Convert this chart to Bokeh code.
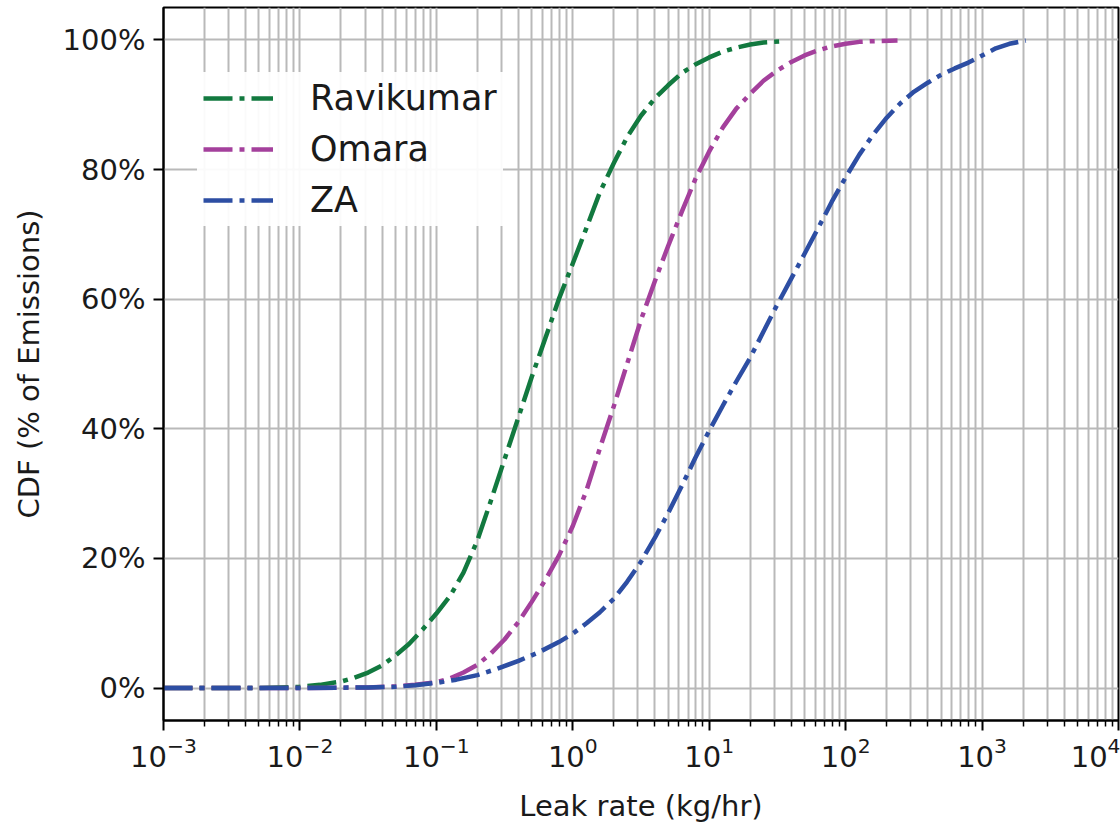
from bokeh.plotting import figure
from bokeh.models import FixedTicker, PrintfTickFormatter, Legend, LegendItem
from bokeh.embed import file_html
from bokeh.resources import INLINE

# ---- data ----
ravikumar_x = [0.001, 0.00316, 0.005, 0.007, 0.01, 0.014, 0.02, 0.025, 0.0316, 0.04, 0.05,
               0.063, 0.079, 0.1, 0.126, 0.158, 0.2, 0.25, 0.316, 0.4, 0.5, 0.63, 0.79,
               1.0, 1.26, 1.58, 2.0, 2.5, 3.16, 4.0, 5.0, 6.3, 7.9, 10, 12.6, 15.8, 20,
               25, 35]
ravikumar_cdf = [0.0, 0.01, 0.02, 0.08, 0.2, 0.5, 1.0, 1.6, 2.4, 3.5, 5.0,
                 6.8, 9.0, 11.5, 14.2, 17.8, 22.8, 28.8, 35.3, 41.8, 48.0, 54.0, 60.0,
                 65.5, 71.0, 76.5, 81.0, 85.0, 88.3, 91.0, 93.0, 94.9, 96.2, 97.3, 98.2,
                 98.8, 99.3, 99.6, 99.8]

omara_x = [0.001, 0.01, 0.0316, 0.05, 0.07, 0.1, 0.126, 0.158, 0.2, 0.25, 0.316, 0.4,
           0.5, 0.63, 0.79, 1.0, 1.26, 1.58, 2.0, 2.5, 3.16, 4.0, 5.0, 6.3, 7.9, 10,
           12.6, 15.8, 20, 25, 31.6, 40, 50, 63, 79, 100, 126, 158, 240]
omara_cdf = [0.0, 0.02, 0.1, 0.25, 0.5, 0.9, 1.5, 2.4, 3.6, 5.3, 7.5, 10.2,
             13.3, 16.7, 20.4, 25.0, 30.5, 37.0, 43.5, 50.0, 56.8, 62.8, 68.2, 73.5,
             78.5, 82.8, 86.5, 89.4, 91.7, 93.7, 95.3, 96.6, 97.6, 98.4, 99.0, 99.4,
             99.7, 99.8, 99.9]

za_x = [0.001, 0.01, 0.0316, 0.05, 0.07, 0.1, 0.14, 0.2, 0.28, 0.4, 0.56, 0.79, 1.0,
        1.26, 1.58, 2.0, 2.5, 3.16, 4.0, 5.0, 6.3, 7.9, 10, 12.6, 15.8, 20, 25, 31.6,
        40, 50, 63, 79, 100, 126, 158, 200, 251, 316, 400, 500, 630, 794, 1000, 1260,
        1585, 2090]
za_cdf = [0.0, 0.02, 0.1, 0.2, 0.45, 0.8, 1.3, 2.0, 3.0, 4.2, 5.5, 7.1, 8.4,
          10.0, 11.7, 13.8, 16.4, 19.5, 23.2, 27.0, 31.2, 35.5, 39.7, 43.6, 47.3,
          51.0, 55.0, 59.2, 63.2, 67.0, 71.0, 75.0, 78.8, 82.3, 85.3, 88.0, 90.2,
          92.0, 93.4, 94.6, 95.6, 96.5, 97.6, 98.7, 99.4, 99.9]

series_names = ["Ravikumar", "Omara", "ZA"]
series_colors = ["#12793f", "#a4409c", "#2d4ea3"]

y_ticks = [0, 20, 40, 60, 80, 100]
x_decades = [1e-3, 1e-2, 1e-1, 1e0, 1e1, 1e2, 1e3, 1e4]
x_minor = [m * d for d in x_decades[:-1] for m in range(2, 10)]

FONT = "DejaVu Sans"

p = figure(width=1120, height=825, x_axis_type="log",
           x_range=(1e-3, 1e4), y_range=(-5, 105),
           output_backend="svg", toolbar_location=None,
           min_border_left=163, min_border_right=2,
           min_border_top=7, min_border_bottom=105)

p.background_fill_color = "white"
p.border_fill_color = "white"
p.outline_line_color = "black"
p.outline_line_width = 2

# grids
p.xgrid.grid_line_color = "#b9b9b9"
p.xgrid.grid_line_width = 2
p.xgrid.minor_grid_line_color = "#b9b9b9"
p.xgrid.minor_grid_line_width = 2
p.ygrid.grid_line_color = "#b9b9b9"
p.ygrid.grid_line_width = 2

# axes
p.xaxis.ticker = FixedTicker(ticks=x_decades, minor_ticks=x_minor)
p.yaxis.ticker = FixedTicker(ticks=y_ticks)
p.yaxis.formatter = PrintfTickFormatter(format="%d%%")

for ax in (p.xaxis[0], p.yaxis[0]):
    ax.axis_line_color = "black"
    ax.axis_line_width = 2
    ax.major_tick_line_color = "black"
    ax.major_tick_line_width = 2
    ax.major_tick_out = 10
    ax.major_tick_in = 0
    ax.minor_tick_line_color = "black"
    ax.minor_tick_line_width = 1.5
    ax.minor_tick_out = 6
    ax.minor_tick_in = 0
    ax.major_label_text_font = FONT
    ax.major_label_text_font_size = "29px"
    ax.major_label_text_color = "#1a1a1a"
    ax.axis_label_text_font = FONT
    ax.axis_label_text_font_size = "29px"
    ax.axis_label_text_font_style = "normal"
    ax.axis_label_text_color = "#1a1a1a"

p.yaxis.minor_tick_line_color = None
p.xaxis.major_label_standoff = 6
p.yaxis.major_label_standoff = 8
p.xaxis.axis_label = "Leak rate (kg/hr)"
p.yaxis.axis_label = "CDF (% of Emissions)"
p.xaxis.axis_label_standoff = 19
p.yaxis.axis_label_standoff = 14

# lines
xs = [ravikumar_x, omara_x, za_x]
ys = [ravikumar_cdf, omara_cdf, za_cdf]
items = []
for name, color, x, y in zip(series_names, series_colors, xs, ys):
    r = p.line(x, y, line_color=color, line_width=4.5, line_dash="29 7 5 7",
               line_join="round")
    items.append(LegendItem(label=name, renderers=[r]))

legend = Legend(items=items, location=(34, 494), margin=0,
                padding=6, spacing=11, glyph_width=70, glyph_height=40,
                label_height=40, label_standoff=37,
                label_text_font=FONT, label_text_font_size="35px",
                label_text_color="#1a1a1a",
                background_fill_color="white", background_fill_alpha=0.92,
                border_line_alpha=0)
p.add_layout(legend, "center")

open("out.html", "w").write(file_html(p, INLINE))
